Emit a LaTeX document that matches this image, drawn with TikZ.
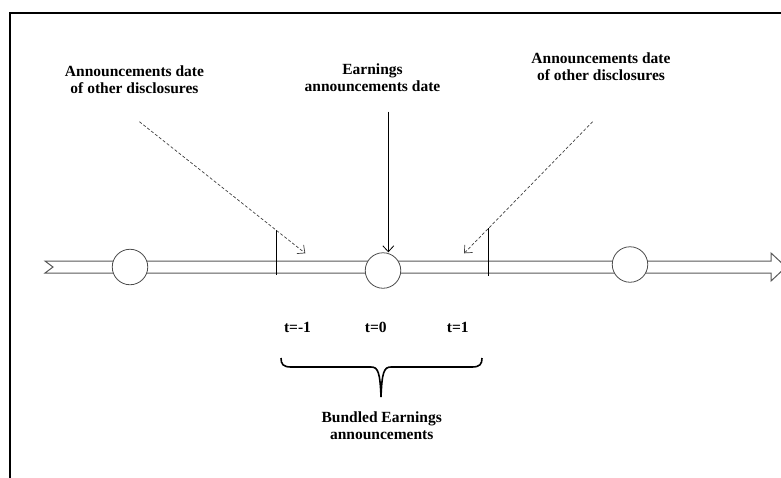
\documentclass[tikz,border=0pt]{standalone}
\usepackage{fontspec}
\setmainfont{Liberation Serif}
\usetikzlibrary{arrows.meta}
\tikzset{
	lbl/.style={font=\bfseries\fontsize{15.5}{17}\selectfont,align=center,inner sep=0pt},
	dot/.style={circle,draw=black!70,fill=white,line width=0.8pt,minimum size=35.5pt,inner sep=0pt},
	tip/.style={-{Straight Barb[length=6pt,width=11pt]}},
	disc/.style={tip,dash pattern=on 3pt off 2pt,black!75,line width=0.7pt}
}
\begin{document}
\begin{tikzpicture}[x=1pt,y=-1pt]
				\useasboundingbox (0,0) rectangle (781,477);
				\draw[line width=2pt] (10,480)--(10,13.3)--(785,13.3);
				\draw[black!65,line width=1pt,fill=white] (45,261)--(771,261)--(771,253)--(786,267)--(771,281)--(771,273)--(45,273)--(53,267)--cycle;
				\node[dot] (before) at (130,267) {};
				\node[dot] (event) at (383,270.5) {};
				\node[dot] (after) at (630,264.5) {};
				\draw[line width=0.8pt] (276.7,230)--(276.7,275);
				\draw[line width=0.8pt] (488.7,228)--(488.7,276);
				\node[lbl] (lother) at (134.5,80) {Announcements date\\of other disclosures};
				\node[lbl] (earn) at (372.5,78) {Earnings\\announcements date};
				\node[lbl] (rother) at (601,66.7) {Announcements date\\of other disclosures};
				\coordinate (ls) at (139.4,121.7);
				\coordinate (le) at (305.3,253.3);
				\coordinate (rs) at (592.6,121.7);
				\coordinate (re) at (464.1,253.3);
				\coordinate (es) at (388.3,111.7);
				\draw[disc] (ls)--(le);
				\draw[disc] (rs)--(re);
				\draw[tip,line width=0.8pt] (es)--(es|-event.north);
				\node[lbl] (tm) at (297.5,327.5) {t=-1};
				\node[lbl] (tz) at (375.8,327.5) {t=0};
				\node[lbl] (tp) at (457.8,327.5) {t=1};
				\draw[line width=1.6pt] (281,358) .. controls (281,364) and (283,367) .. (291,367)--(371,367) .. controls (378,367) and (380,372) .. (381,397) .. controls (382,372) and (384,367) .. (391,367)--(472,367) .. controls (480,367) and (482,364) .. (482,358);
				\node[lbl] (bundle) at (381.7,425.5) {Bundled Earnings\\announcements};
			\end{tikzpicture}
\end{document}
